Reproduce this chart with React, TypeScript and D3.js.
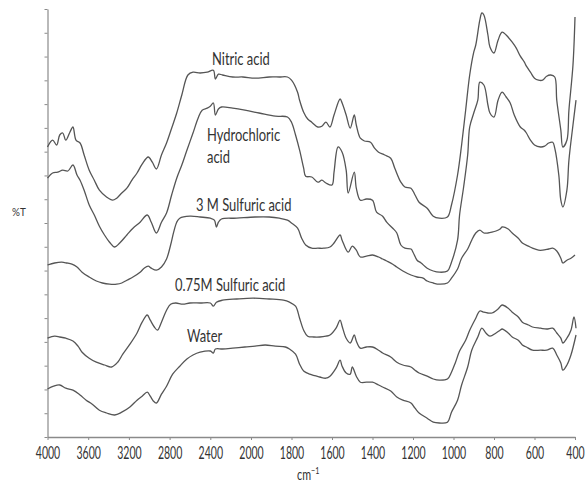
import * as d3 from 'd3';
import React, { useRef, useEffect } from 'react';

// wavenumber (cm-1), %T (arbitrary offset units)
const nitricAcid: [number, number][] = [
  [4000, 72.5], [3950, 74.2], [3910, 73], [3880, 75.5], [3850, 76], [3820, 74.2], [3780, 76.2], [3750, 77.5],
  [3720, 74.2], [3680, 73.5], [3640, 70.5], [3590, 66.7], [3540, 64.2], [3490, 61.7], [3420, 60], [3360, 59.2],
  [3320, 59.7], [3270, 61], [3220, 62.2], [3170, 64.2], [3120, 66], [3070, 68.2], [3010, 70], [2970, 68.7],
  [2930, 67], [2880, 70.5], [2830, 73.5], [2780, 77.2], [2730, 81], [2680, 85.5], [2620, 90.5], [2570, 91.2],
  [2500, 91], [2430, 91.2], [2370, 91.7], [2350, 89.5], [2320, 90.7], [2280, 90.5], [2180, 90], [2080, 90],
  [1980, 89.7], [1910, 90], [1860, 90], [1820, 90], [1800, 89.2], [1770, 86.2], [1760, 84.2], [1740, 81.2],
  [1720, 79.5], [1700, 78.7], [1670, 77.5], [1650, 77.7], [1630, 78.7], [1610, 77.5], [1590, 80.5], [1560, 84.5],
  [1550, 83.5], [1530, 80.5], [1510, 77.2], [1490, 80.5], [1480, 78], [1460, 74.7], [1440, 74], [1410, 73.7],
  [1390, 72.2], [1370, 71.2], [1340, 70.5], [1310, 69.7], [1290, 67.2], [1260, 63.7], [1240, 62.5], [1210, 62.2],
  [1190, 60.5], [1170, 58.7], [1130, 57.2], [1100, 55.2], [1070, 54.7], [1030, 55], [1010, 58], [980, 65.5],
  [960, 73], [940, 81.7], [920, 90.5], [900, 96.2], [890, 98], [870, 104.2], [860, 106], [850, 105.5],
  [830, 100.5], [820, 97.5], [800, 96], [780, 99.2], [760, 101.2], [740, 100.5], [710, 98.7], [690, 97.2],
  [670, 95.2], [650, 93.7], [640, 92.7], [620, 91.2], [600, 89.7], [580, 89.2], [560, 89.2], [540, 90.2],
  [520, 90.5], [500, 90], [490, 84.2], [470, 76.7], [460, 72.5], [440, 74.2], [430, 81.7], [410, 93], [400, 105],
];

const hydrochloricAcid: [number, number][] = [
  [4000, 64.7], [3950, 66], [3900, 66.2], [3850, 66.7], [3800, 66.5], [3750, 68], [3710, 65.5], [3680, 64.2],
  [3640, 61.7], [3590, 58], [3540, 55.5], [3490, 52.7], [3440, 50.5], [3390, 48.7], [3340, 47.5], [3290, 48.5],
  [3220, 50.5], [3160, 52.2], [3090, 53.7], [3020, 55.5], [2980, 53.7], [2930, 51], [2880, 53.7], [2830, 56],
  [2780, 60.5], [2730, 64.7], [2680, 68], [2630, 71.7], [2570, 76], [2520, 79.7], [2480, 81.7], [2430, 82.2],
  [2400, 82.7], [2370, 83.5], [2350, 80.5], [2320, 82], [2290, 82.5], [2180, 82.2], [2060, 81.7], [1960, 81],
  [1880, 80.2], [1820, 80], [1800, 78.7], [1780, 75.5], [1760, 71.7], [1740, 67.2], [1730, 65.2], [1700, 65],
  [1670, 63.7], [1650, 64.2], [1630, 63.5], [1600, 63], [1590, 66.2], [1570, 72.5], [1550, 71.2], [1530, 66.7],
  [1520, 61], [1490, 66.2], [1480, 62.2], [1460, 59.2], [1430, 59.5], [1400, 59.2], [1380, 56.2], [1350, 55.2],
  [1330, 53.7], [1300, 52.2], [1280, 51], [1260, 48], [1240, 47.2], [1210, 47], [1200, 46.2], [1180, 44.2],
  [1160, 43.5], [1130, 42.2], [1100, 41.5], [1070, 41.2], [1030, 41.5], [1010, 43.7], [980, 49.2], [970, 55.5],
  [950, 62.5], [930, 70.5], [920, 77.5], [900, 81], [880, 84.2], [870, 88.7], [850, 88], [830, 83],
  [820, 81], [800, 80], [780, 84.2], [760, 86.2], [740, 85], [720, 83.5], [700, 80.5], [670, 77.5],
  [650, 76.7], [640, 76], [620, 74.2], [600, 73], [570, 72.5], [550, 72.7], [530, 73.5], [510, 73.7],
  [500, 72.2], [480, 65.5], [470, 59.2], [460, 57.5], [440, 61.7], [430, 69.2], [410, 78], [395, 84.2],
];

const sulfuric3M: [number, number][] = [
  [4000, 43], [3930, 43.5], [3860, 43.7], [3810, 43.5], [3760, 43.2], [3710, 42.5], [3660, 41.2], [3590, 40],
  [3520, 39], [3460, 38.5], [3390, 38.2], [3320, 38.2], [3270, 38.5], [3220, 39.2], [3160, 40], [3090, 41.2],
  [3050, 42.2], [3010, 42.7], [2980, 42.2], [2930, 41.7], [2880, 42.5], [2830, 44.5], [2790, 48], [2760, 51.2],
  [2730, 53.7], [2700, 54.7], [2600, 55.2], [2500, 55], [2400, 54.7], [2360, 54.2], [2340, 52.5], [2320, 53.7],
  [2290, 54.5], [2140, 54.7], [1980, 55], [1910, 55], [1860, 54.7], [1820, 54.2], [1800, 53.5], [1770, 52.2],
  [1750, 49.7], [1730, 48], [1700, 47.2], [1670, 47.2], [1640, 47.2], [1610, 47.5], [1590, 48.5], [1560, 50.5],
  [1550, 49.2], [1520, 46.2], [1500, 47.7], [1480, 46.7], [1460, 45], [1430, 45.2], [1400, 45.5], [1370, 45],
  [1350, 44.5], [1330, 44], [1300, 43.2], [1280, 42.5], [1250, 41.5], [1210, 40.5], [1180, 40], [1150, 39.7],
  [1130, 39], [1100, 38.5], [1070, 38.2], [1030, 38.5], [1010, 39.7], [980, 42], [960, 44.7], [930, 47],
  [910, 49.2], [890, 51], [870, 51.7], [850, 51], [830, 51], [810, 51.2], [790, 51.5], [770, 52],
  [760, 52.5], [730, 52], [710, 51], [680, 49.7], [660, 48.5], [630, 47.7], [610, 47.2], [580, 46.7],
  [560, 46.7], [530, 47], [510, 47.2], [490, 46.5], [470, 44.7], [460, 43.5], [440, 44.2], [420, 44.7], [400, 45.5],
];

const sulfuric075M: [number, number][] = [
  [4000, 24.7], [3930, 25.2], [3880, 25], [3820, 24.7], [3750, 24], [3700, 22.7], [3660, 21.2], [3590, 19.7],
  [3520, 18.7], [3440, 18], [3370, 17.5], [3310, 18.7], [3260, 20.7], [3190, 23.2], [3120, 26], [3070, 28.7],
  [3020, 30.5], [2990, 29.2], [2950, 27.5], [2920, 26.7], [2880, 28.7], [2830, 31.7], [2790, 33.2], [2740, 33.5],
  [2670, 33.2], [2600, 33.5], [2500, 33.5], [2400, 33.5], [2370, 32.7], [2340, 33.7], [2280, 34.2], [2140, 34.5],
  [1990, 34.7], [1910, 34.5], [1840, 34.2], [1810, 33.7], [1780, 32.7], [1760, 29.7], [1740, 26.7], [1720, 25.2],
  [1690, 25], [1660, 25], [1630, 25.2], [1610, 25.5], [1580, 27.2], [1560, 29.2], [1550, 27.7], [1530, 24.7],
  [1510, 23.5], [1490, 25.5], [1480, 24], [1460, 22.2], [1430, 22.5], [1400, 22.5], [1370, 21.7], [1350, 21],
  [1310, 20], [1280, 18.7], [1250, 18], [1210, 17.5], [1190, 16.7], [1170, 16], [1130, 15.2], [1100, 14.5],
  [1070, 14.2], [1030, 14.5], [1010, 16.2], [990, 18.7], [970, 21.5], [940, 24.2], [920, 26.7], [890, 29.7],
  [870, 31.5], [850, 31.2], [830, 31], [810, 31], [780, 32], [760, 33], [730, 32.2], [710, 31.2],
  [680, 30], [660, 28.7], [630, 28], [610, 27.5], [570, 27.2], [540, 27], [510, 27.2], [490, 26],
  [470, 24.7], [460, 23.5], [440, 24.7], [420, 26.7], [405, 30], [395, 27.2],
];

const water: [number, number][] = [
  [4000, 12], [3940, 12.7], [3880, 13], [3820, 12.2], [3750, 11.7], [3680, 10.5], [3620, 9.2], [3560, 8.2],
  [3490, 6.7], [3420, 6], [3340, 5.5], [3270, 6.2], [3190, 7.5], [3120, 9.2], [3070, 10.2], [3020, 11.2],
  [2990, 10.2], [2960, 9], [2930, 8.5], [2880, 10.7], [2830, 12.7], [2770, 15.7], [2700, 17.7], [2630, 19.5],
  [2570, 20.5], [2500, 21.2], [2400, 21.5], [2370, 21], [2350, 22], [2280, 22], [2180, 22.2], [2060, 22.5],
  [1980, 22.7], [1930, 23], [1880, 22.7], [1830, 22.5], [1810, 22], [1780, 20.7], [1760, 18.2], [1740, 16.5],
  [1710, 15.7], [1660, 15], [1630, 14.7], [1610, 15.2], [1580, 17.2], [1560, 19.2], [1550, 17.7], [1530, 16],
  [1510, 15.7], [1500, 17.5], [1480, 15.2], [1460, 13.7], [1430, 13.7], [1400, 13.7], [1370, 13], [1350, 12.5],
  [1310, 11.5], [1280, 10], [1250, 9.2], [1210, 8.5], [1190, 7.2], [1170, 6], [1130, 4.7], [1100, 3.7],
  [1070, 3.5], [1030, 3.7], [1010, 6.2], [980, 9.2], [960, 13], [930, 17.5], [910, 21.7], [880, 25],
  [860, 27.2], [840, 26], [820, 25.2], [790, 26], [770, 26.7], [760, 27], [730, 26], [710, 25],
  [680, 24.2], [660, 23], [640, 22.5], [610, 21.7], [570, 21.7], [540, 21.7], [510, 22.2], [490, 20.5],
  [470, 18.5], [460, 16.7], [440, 18], [420, 20.5], [395, 25.5],
];

const seriesList = [nitricAcid, hydrochloricAcid, sulfuric3M, sulfuric075M, water];

const xTickValues = [4000, 3600, 3200, 2800, 2400, 2000, 1800, 1600, 1400, 1200, 1000, 800, 600, 400];

const seriesLabels = [['Nitric acid'], ['Hydrochloric', 'acid'], ['3 M Sulfuric acid'], ['0.75M Sulfuric acid'], ['Water']];
// label anchor (start x, first baseline y)
const labelPos = [[212, 65], [207, 141], [196, 211], [175, 291], [187, 342]];
const lineGap = 22;

const W = 586;
const H = 485;

const App = () => {
  const svgRef = useRef<SVGSVGElement>(null);

  useEffect(() => {
    const svg = d3.select(svgRef.current);
    svg.selectAll('*').remove();

    const bottom = 437;
    const top = 9;

    // the x axis is compressed above 2000 cm-1
    const x = d3.scaleLinear().domain([4000, 2000, 400]).range([47.5, 251, 575]);
    const y = d3.scaleLinear().domain([0, 107]).range([bottom, top]);
    const yTicks = d3.range(19).map((i) => (i * 107) / 18);

    const axisColor = '#8a8a8a';
    const textColor = '#333';
    const font = 'Lato, "Open Sans", sans-serif';

    // y axis
    const gy = svg
      .append('g')
      .attr('transform', `translate(${x(4000)},0)`)
      .call(d3.axisLeft(y).tickValues(yTicks).tickSize(3).tickSizeOuter(0).tickFormat(() => ''));
    gy.select('.domain').attr('stroke', axisColor).attr('stroke-width', 1.2);
    gy.selectAll('.tick line').attr('stroke', axisColor);

    // x axis
    const gx = svg
      .append('g')
      .attr('transform', `translate(0,${bottom})`)
      .call(d3.axisBottom(x).tickValues(xTickValues).tickSize(3).tickSizeOuter(0).tickFormat(d3.format('d')));
    gx.select('.domain').attr('stroke', axisColor).attr('stroke-width', 1.5);
    gx.selectAll('.tick line').attr('stroke', axisColor);
    gx.selectAll('.tick text')
      .attr('y', 22)
      .attr('dy', 0)
      .attr('font-size', 17)
      .attr('font-family', font)
      .attr('fill', textColor)
      .attr('transform', 'scale(0.62,1)');

    // spectra
    const line = d3
      .line<[number, number]>()
      .x((d) => x(d[0]))
      .y((d) => y(d[1]))
      .curve(d3.curveCatmullRom.alpha(0.5));

    svg
      .append('g')
      .selectAll('path')
      .data(seriesList)
      .join('path')
      .attr('d', (d) => line(d))
      .attr('fill', 'none')
      .attr('stroke', '#555')
      .attr('stroke-width', 1.3)
      .attr('stroke-linejoin', 'round');

    // curve labels, one text element each (multi-line via tspans)
    seriesLabels.forEach((lines, i) => {
      const [lx, ly] = labelPos[i];
      const t = svg
        .append('text')
        .attr('transform', `translate(${lx},${ly}) scale(0.72,1)`)
        .attr('font-size', 18)
        .attr('font-family', font)
        .attr('fill', textColor);
      lines.forEach((s, j) => {
        t.append('tspan').attr('x', 0).attr('y', j * lineGap).text(s);
      });
    });

    // axis titles
    svg
      .append('text')
      .attr('transform', 'translate(12,216) scale(0.9,1)')
      .attr('font-size', 11)
      .attr('font-family', font)
      .attr('fill', textColor)
      .text('%T');

    const unit = svg
      .append('text')
      .attr('transform', 'translate(297,480) scale(0.72,1)')
      .attr('font-size', 15)
      .attr('font-family', font)
      .attr('fill', textColor);
    unit.append('tspan').text('cm');
    unit.append('tspan').attr('dy', -6).attr('font-size', 10).text('\u22121');
  }, []);

  return (
    <svg
      ref={svgRef}
      width={W}
      height={H}
      style={{ position: 'absolute', left: 0, top: 0, background: '#fff' }}
    />
  );
};

export default App;
